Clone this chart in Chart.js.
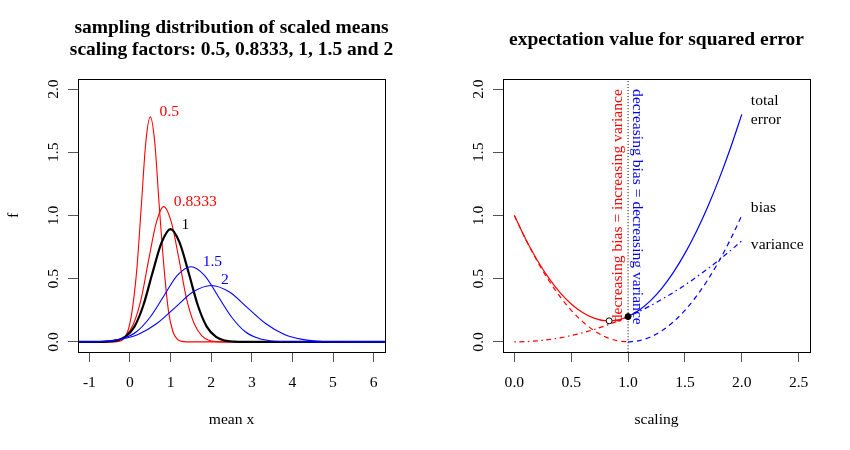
<!DOCTYPE html>
<html>
<head>
<meta charset="utf-8">
<title>scaled means and squared error</title>
<script src="https://cdn.jsdelivr.net/npm/chart.js@4.4.1/dist/chart.umd.min.js"></script>
<style>
  body { margin: 0; background: #fff; }
  #wrap { display: flex; width: 850px; height: 450px; }
  canvas { display: block; }
</style>
</head>
<body>
<div id="wrap">
  <canvas id="left" width="425" height="450"></canvas>
  <canvas id="right" width="425" height="450"></canvas>
</div>
<script>
const SERIF = "'Liberation Serif', 'Times New Roman', serif";
const RED = '#ff0000';
const BLUE = '#0000ff';
const FONT = '15.6px ' + SERIF;

// ---- left panel: sampling distributions ----
const factorLabels = ['0.5', '0.8333', '1', '1.5', '2'];

const x05 = [-2, -0.39, -0.28, -0.17, -0.06, 0.05, 0.17, 0.28, 0.39, 0.5, 0.61, 0.72, 0.84, 0.95, 1.06, 1.17, 1.28, 1.39, 7];
const f05 = [0, 0.0005, 0.004, 0.02, 0.078, 0.24, 0.58, 1.08, 1.58, 1.78, 1.58, 1.08, 0.58, 0.24, 0.078, 0.02, 0.004, 0.0005, 0];

const x083 = [-2, -0.66, -0.47, -0.29, -0.10, 0.09, 0.28, 0.46, 0.65, 0.83, 1.02, 1.21, 1.39, 1.58, 1.77, 1.95, 2.14, 2.32, 7];
const f083 = [0, 0.0003, 0.0024, 0.012, 0.047, 0.145, 0.347, 0.649, 0.945, 1.07, 0.945, 0.649, 0.347, 0.145, 0.047, 0.012, 0.0024, 0.0003, 0];

const x1 = [-2, -0.79, -0.57, -0.34, -0.12, 0.11, 0.33, 0.55, 0.78, 1, 1.22, 1.45, 1.67, 1.89, 2.12, 2.34, 2.57, 2.79, 7];
const f1 = [0, 0.0002, 0.002, 0.0098, 0.039, 0.121, 0.29, 0.541, 0.787, 0.892, 0.787, 0.541, 0.29, 0.121, 0.039, 0.0098, 0.002, 0.0002, 0];

const x15 = [-2, -1.18, -0.85, -0.51, -0.18, 0.16, 0.49, 0.83, 1.16, 1.5, 1.84, 2.17, 2.51, 2.84, 3.18, 3.51, 3.85, 4.18, 7];
const f15 = [0, 0.0001, 0.0013, 0.0066, 0.026, 0.08, 0.193, 0.361, 0.525, 0.595, 0.525, 0.361, 0.193, 0.08, 0.026, 0.0066, 0.0013, 0.0001, 0];

const x2 = [-2, -1.58, -1.13, -0.68, -0.24, 0.21, 0.66, 1.11, 1.55, 2, 2.45, 2.89, 3.34, 3.79, 4.24, 4.68, 5.13, 5.58, 7];
const f2 = [0, 0.0001, 0.001, 0.0049, 0.0196, 0.06, 0.145, 0.271, 0.394, 0.446, 0.394, 0.271, 0.145, 0.06, 0.0196, 0.0049, 0.001, 0.0001, 0];

const leftXTicks = [-1, 0, 1, 2, 3, 4, 5, 6];
const leftXTickLabels = ['-1', '0', '1', '2', '3', '4', '5', '6'];
const yTicks = [0, 0.5, 1, 1.5, 2];
const yTickLabels = ['0.0', '0.5', '1.0', '1.5', '2.0'];

// ---- right panel: expected squared error against scaling ----
const scaling = [0, 0.1, 0.2, 0.3, 0.4, 0.5, 0.6, 0.7, 0.8, 0.9, 1.0, 1.1, 1.2, 1.3, 1.4, 1.5, 1.6, 1.7, 1.8, 1.9, 2.0];
const totalError = [1, 0.812, 0.648, 0.508, 0.392, 0.3, 0.232, 0.188, 0.168, 0.172, 0.2, 0.252, 0.328, 0.428, 0.552, 0.7, 0.872, 1.068, 1.288, 1.532, 1.8];
const biasSq = [1, 0.81, 0.64, 0.49, 0.36, 0.25, 0.16, 0.09, 0.04, 0.01, 0, 0.01, 0.04, 0.09, 0.16, 0.25, 0.36, 0.49, 0.64, 0.81, 1.0];
const varianceVals = [0, 0.002, 0.008, 0.018, 0.032, 0.05, 0.072, 0.098, 0.128, 0.162, 0.2, 0.242, 0.288, 0.338, 0.392, 0.45, 0.512, 0.578, 0.648, 0.722, 0.8];
const optimumPoint = [0.8333, 0.1667];
const unscaledPoint = [1, 0.2];

const rightXTicks = [0, 0.5, 1, 1.5, 2, 2.5];
const rightXTickLabels = ['0.0', '0.5', '1.0', '1.5', '2.0', '2.5'];

function pts(xs, ys) {
    return xs.map((x, i) => ({ x: x, y: ys[i] }));
}

function curve(data, color, width, dash, order) {
    return {
        data: data,
        borderColor: color,
        borderWidth: width,
        borderDash: dash || [],
        pointRadius: 0,
        fill: false,
        cubicInterpolationMode: 'monotone',
        order: order
    };
}

function options(xmin, xmax, xticks, xlabels) {
    return {
        responsive: false,
        animation: false,
        layout: { padding: { top: 79, right: 40, left: 0, bottom: 0 } },
        plugins: { legend: { display: false }, tooltip: { enabled: false }, title: { display: false } },
        scales: {
            x: {
                type: 'linear',
                min: xmin,
                max: xmax,
                afterBuildTicks: s => { s.ticks = xticks.map(v => ({ value: v })); },
                afterFit: s => { s.height = 98; },
                grid: { drawOnChartArea: false, drawTicks: true, tickLength: 10, color: '#555', lineWidth: 1 },
                border: { display: false },
                ticks: {
                    autoSkip: false,
                    maxRotation: 0,
                    padding: 12,
                    color: '#000',
                    font: { family: SERIF, size: 15.6 },
                    callback: (v, i) => xlabels[i]
                }
            },
            y: {
                type: 'linear',
                min: -0.08,
                max: 2.08,
                afterBuildTicks: s => { s.ticks = yTicks.map(v => ({ value: v })); },
                afterFit: s => { s.width = 78; },
                grid: { drawOnChartArea: false, drawTicks: true, tickLength: 10, color: '#555', lineWidth: 1 },
                border: { display: false },
                ticks: { display: false }
            }
        }
    };
}

function text(ctx, s, x, y, font, color, align, rot) {
    ctx.save();
    ctx.translate(x, y);
    if (rot) ctx.rotate(rot);
    ctx.font = font;
    ctx.fillStyle = color;
    ctx.textAlign = align || 'center';
    ctx.textBaseline = 'middle';
    ctx.fillText(s, 0, 0);
    ctx.restore();
}

// box, rotated y tick labels, titles
function frame(chart, titles, xTitle, yTitle) {
    const { ctx, chartArea: a, scales } = chart;
    const cx = (a.left + a.right) / 2;
    ctx.save();
    ctx.strokeStyle = '#000';
    ctx.lineWidth = 1;
    ctx.strokeRect(a.left + 0.5, a.top + 0.5, a.right - a.left, a.bottom - a.top);
    ctx.restore();
    yTicks.forEach((v, i) => {
        text(ctx, yTickLabels[i], 54, scales.y.getPixelForValue(v), FONT, '#000', 'center', -Math.PI / 2);
    });
    titles.forEach(t => text(ctx, t[0], cx, t[1], 'bold 19.5px ' + SERIF, '#000'));
    text(ctx, xTitle, cx, 420, FONT, '#000');
    if (yTitle) text(ctx, yTitle, 14, (a.top + a.bottom) / 2, FONT, '#000', 'center', -Math.PI / 2);
}

const leftDecor = {
    id: 'leftDecor',
    afterDraw(chart) {
        const { ctx, scales: { x, y } } = chart;
        frame(chart, [['sampling distribution of scaled means', 28], ['scaling factors: 0.5, 0.8333, 1, 1.5 and 2', 50]], 'mean x', 'f');
        // curve labels, placed next to each peak
        text(ctx, factorLabels[0], x.getPixelForValue(0.73), y.getPixelForValue(1.82), FONT, RED, 'left');
        text(ctx, factorLabels[1], x.getPixelForValue(1.08), y.getPixelForValue(1.106), FONT, RED, 'left');
        text(ctx, factorLabels[2], x.getPixelForValue(1.27), y.getPixelForValue(0.924), FONT, '#000', 'left');
        text(ctx, factorLabels[3], x.getPixelForValue(1.79), y.getPixelForValue(0.63), FONT, BLUE, 'left');
        text(ctx, factorLabels[4], x.getPixelForValue(2.24), y.getPixelForValue(0.488), FONT, BLUE, 'left');
    }
};

const rightDecor = {
    id: 'rightDecor',
    afterDraw(chart) {
        const { ctx, scales: { x, y } } = chart;
        frame(chart, [['expectation value for squared error', 40]], 'scaling', null);
        text(ctx, 'total', x.getPixelForValue(2.08), y.getPixelForValue(1.907), FONT, '#000', 'left');
        text(ctx, 'error', x.getPixelForValue(2.08), y.getPixelForValue(1.76), FONT, '#000', 'left');
        text(ctx, 'bias', x.getPixelForValue(2.08), y.getPixelForValue(1.063), FONT, '#000', 'left');
        text(ctx, 'variance', x.getPixelForValue(2.08), y.getPixelForValue(0.765), FONT, '#000', 'left');
        // the two rotated notes either side of scaling = 1
        text(ctx, 'decreasing bias = increasing variance', x.getPixelForValue(0.91), y.getPixelForValue(2.0), FONT, RED, 'right', -Math.PI / 2);
        text(ctx, 'decreasing bias = decreasing variance', x.getPixelForValue(1.075), y.getPixelForValue(2.0), FONT, BLUE, 'left', Math.PI / 2);
    }
};

new Chart(document.getElementById('left'), {
    type: 'line',
    data: {
        datasets: [
            curve(pts(x05, f05), RED, 1.1, null, 4),
            curve(pts(x083, f083), RED, 1.1, null, 3),
            curve(pts(x1, f1), '#000', 2.2, null, 2),
            curve(pts(x15, f15), BLUE, 1.1, null, 1),
            curve(pts(x2, f2), BLUE, 1.1, null, 0)
        ]
    },
    options: options(-1.28, 6.28, leftXTicks, leftXTickLabels),
    plugins: [leftDecor]
});

const DASH = [5, 4];
const DOTDASH = [1.5, 3.5, 5, 3.5];
const redPart = [0, 11];
const bluePart = [10, 21];

new Chart(document.getElementById('right'), {
    type: 'line',
    data: {
        datasets: [
            {
                data: pts([optimumPoint[0]], [optimumPoint[1]]),
                showLine: false, pointRadius: 3, pointBorderWidth: 1,
                pointBackgroundColor: '#fff', pointBorderColor: '#000', order: 0
            },
            {
                data: pts([unscaledPoint[0]], [unscaledPoint[1]]),
                showLine: false, pointRadius: 3, pointBorderWidth: 1,
                pointBackgroundColor: '#000', pointBorderColor: '#000', order: 0
            },
            curve(pts([1, 1], [-0.2, 2.2]), '#000', 1, [1, 2], 1),
            curve(pts(scaling.slice(...redPart), totalError.slice(...redPart)), RED, 1.2, null, 2),
            curve(pts(scaling.slice(...bluePart), totalError.slice(...bluePart)), BLUE, 1.2, null, 2),
            curve(pts(scaling.slice(...redPart), biasSq.slice(...redPart)), RED, 1.2, DASH, 3),
            curve(pts(scaling.slice(...bluePart), biasSq.slice(...bluePart)), BLUE, 1.2, DASH, 3),
            curve(pts(scaling.slice(...redPart), varianceVals.slice(...redPart)), RED, 1.2, DOTDASH, 3),
            curve(pts(scaling.slice(...bluePart), varianceVals.slice(...bluePart)), BLUE, 1.2, DOTDASH, 3)
        ]
    },
    options: options(-0.1, 2.6, rightXTicks, rightXTickLabels),
    plugins: [rightDecor]
});
</script>
</body>
</html>
